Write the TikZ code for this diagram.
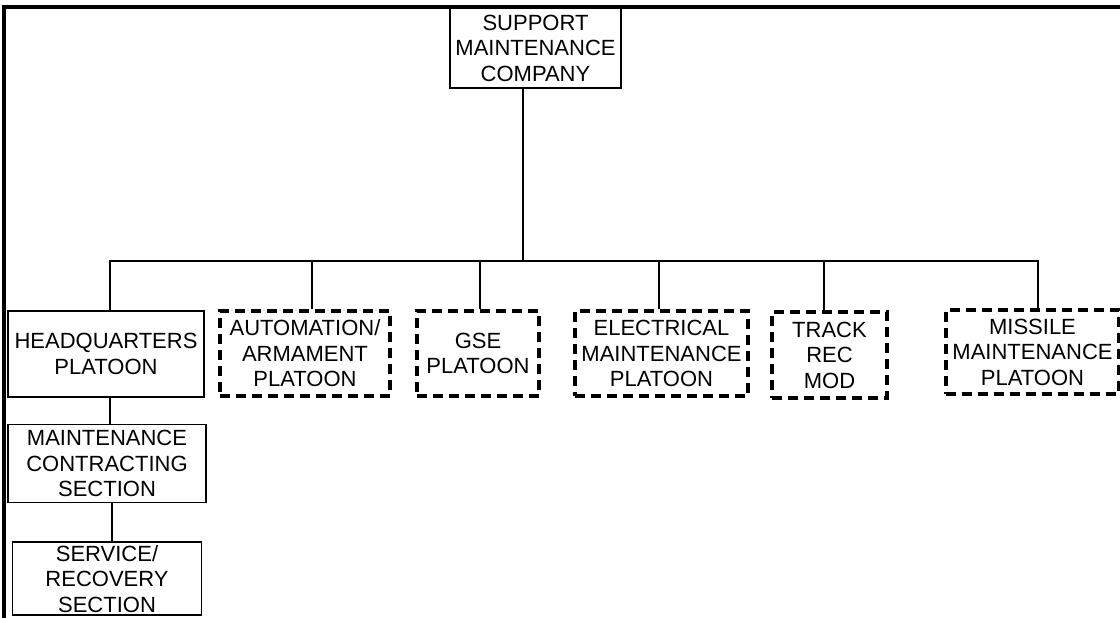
\documentclass[tikz,border=0pt]{standalone}
\usepackage{fontspec}
\setmainfont{Liberation Sans}
\usetikzlibrary{positioning}
\begin{document}
\begin{tikzpicture}[
  x=1pt,y=-1pt,
  font=\fontsize{22}{25.5}\selectfont,
  b/.style={rectangle,draw,line width=1.6pt,align=center,inner sep=1pt},
  db/.style={b,line width=3.2pt,dash pattern=on 10pt off 6pt},
  ln/.style={line width=1.2pt}
]
\useasboundingbox (0,0) rectangle (1120,618);
\draw[line width=3.5pt] (4,618) -- (4,7) -- (1120,7);
\node[b,minimum width=171pt,minimum height=80pt] (co) at (535.5,48) {SUPPORT\\MAINTENANCE\\COMPANY};
\node[b,minimum width=196pt,minimum height=86pt] (hq) at (106,354) {HEADQUARTERS\\PLATOON};
\node[db,minimum width=170pt,minimum height=85pt] (au) at (305,353.5) {AUTOMATION/\\ARMAMENT\\PLATOON};
\node[db,minimum width=122pt,minimum height=85pt] (gse) at (478,353.5) {GSE\\PLATOON};
\node[db,minimum width=173pt,minimum height=85pt] (el) at (661.5,353.5) {ELECTRICAL\\MAINTENANCE\\PLATOON};
\node[db,minimum width=115pt,minimum height=86pt] (tr) at (829.5,355) {TRACK\\REC\\MOD};
\node[db,minimum width=173pt,minimum height=84pt] (mm) at (1032.5,352) {MISSILE\\MAINTENANCE\\PLATOON};
\node[b,minimum width=198pt,minimum height=78pt,below=26pt of hq.south,anchor=north,xshift=1pt] (mc) {MAINTENANCE\\CONTRACTING\\SECTION};
\node[b,minimum width=189pt,minimum height=73pt,below=38pt of mc.south,anchor=north] (sr) {SERVICE/\\RECOVERY\\SECTION};
% bus
\coordinate (bus) at (523,261);
\draw[ln] ([xshift=-12.5pt]co.south) -- (bus);
\draw[ln] ([xshift=4pt]hq.north) |- ([xshift=5.5pt]mm.north |- bus) -- ([xshift=5.5pt]mm.north);
\foreach \n/\dx in {au/7,gse/2,el/-2.5,tr/-5.5}
  \draw[ln] ([xshift=\dx pt]\n.north) -- ([xshift=\dx pt]\n.north |- bus);
\draw[ln] ([xshift=4pt]hq.south) -- ([xshift=4pt]hq.south |- mc.north);
\draw[ln] ([xshift=5pt]mc.south) -- ([xshift=5pt]mc.south |- sr.north);
\end{tikzpicture}
\end{document}
